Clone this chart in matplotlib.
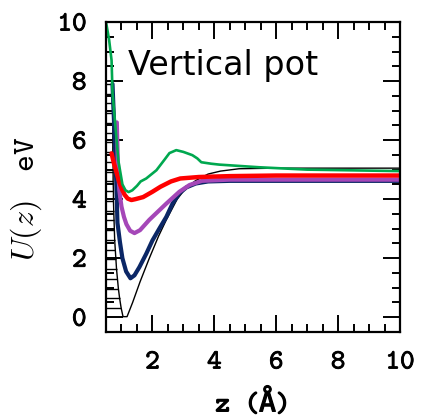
import numpy as np
import matplotlib
matplotlib.use("Agg")
from matplotlib import pyplot as plt
from matplotlib.ticker import MultipleLocator
import matplotlib.patheffects as pe

# potential curves U(z), z in Angstrom, U in eV

# black: steep wall branch (with the rungs the old plot left at each level), then the well
black_wall_z = [0.70, 0.71, 0.71, 0.72, 0.72, 0.72, 0.72, 0.72, 0.73, 0.73, 0.73,
                0.74, 0.74, 0.75, 0.76, 0.77, 0.78, 0.80, 0.82, 0.84, 0.87, 0.90,
                0.94, 0.99]
black_wall_u = [7.90, 7.57, 7.24, 6.91, 6.58, 6.25, 5.92, 5.59, 5.26, 4.93, 4.60,
                4.27, 3.94, 3.61, 3.28, 2.95, 2.62, 2.29, 1.96, 1.63, 1.30, 0.97,
                0.64, 0.31]
black_z = [1.05, 1.18, 1.36, 1.60, 1.90, 2.20, 2.45, 2.80, 3.10, 3.40, 3.80,
           4.20, 4.80, 6.00, 10.0]
black_u = [0.02, 0.02, 0.50, 1.20, 2.00, 2.75, 3.30, 4.00, 4.40, 4.63, 4.85,
           4.95, 5.03, 5.05, 5.05]

navy_z = [0.71, 0.76, 0.81, 0.84, 0.87, 0.95, 1.03, 1.15, 1.29, 1.42, 1.58,
          1.80, 2.00, 2.25, 2.45, 2.65, 2.87, 3.10, 3.40, 3.80, 4.50, 6.00, 10.0]
navy_u = [7.90, 6.60, 5.30, 4.30, 3.20, 2.55, 2.00, 1.55, 1.32, 1.42, 1.70,
          2.15, 2.60, 3.05, 3.40, 3.85, 4.20, 4.40, 4.53, 4.60, 4.62, 4.62, 4.62]

purple_z = [0.85, 0.88, 0.93, 1.00, 1.08, 1.16, 1.28, 1.42, 1.60, 1.90, 2.20,
            2.45, 2.87, 3.20, 3.60, 4.50, 10.0]
purple_u = [6.60, 5.30, 4.30, 3.75, 3.40, 3.15, 2.93, 2.85, 2.95, 3.30, 3.60,
            3.85, 4.25, 4.48, 4.62, 4.66, 4.66]

red_z = [0.68, 0.76, 0.84, 0.92, 1.00, 1.10, 1.20, 1.32, 1.45, 1.70, 2.00,
         2.26, 2.60, 2.90, 3.50, 4.50, 6.00, 10.0]
red_u = [5.55, 5.20, 4.90, 4.60, 4.37, 4.15, 4.02, 3.97, 4.00, 4.07, 4.25,
         4.42, 4.60, 4.70, 4.75, 4.78, 4.80, 4.80]

green_z = [0.50, 0.60, 0.68, 0.71, 0.81, 0.90, 1.03, 1.13, 1.23, 1.35, 1.50,
           1.62, 1.80, 2.13, 2.40, 2.55, 2.77, 3.00, 3.29, 3.45, 3.58, 3.90,
           4.16, 5.45, 7.00, 10.0]
green_u = [10.0, 9.40, 8.70, 7.60, 6.40, 5.30, 4.50, 4.30, 4.24, 4.30, 4.45,
           4.60, 4.70, 4.98, 5.35, 5.56, 5.66, 5.60, 5.49, 5.38, 5.25, 5.20,
           5.17, 5.08, 5.00, 4.95]

zmin, zmax = 0.5, 10.0
umin, umax = -0.5, 10.0


def main():
  plt.rcParams['mathtext.fontset'] = 'cm'
  tt = ['cmtt10', 'DejaVu Sans Mono']
  bold = [pe.withStroke(linewidth=0.6, foreground='black')]

  fig = plt.figure(figsize=(4.23, 4.19), dpi=100)
  ax = fig.add_axes([0.2506, 0.2076, 0.695, 0.7399])

  ax.plot(black_wall_z + black_z, black_wall_u + black_u, '-', color='black', lw=1.0)
  ax.hlines(black_wall_u, zmin, black_wall_z, color='black', lw=1.0)
  ax.plot(navy_z, navy_u, '-', color='#0b2766', lw=3.0, solid_capstyle='round')
  ax.plot(purple_z, purple_u, '-', color='#a547b8', lw=3.0, solid_capstyle='round')
  ax.plot(red_z, red_u, '-', color='#ff0000', lw=3.2, solid_capstyle='round')
  ax.plot(green_z, green_u, '-', color='#00a84f', lw=1.9)

  ax.set_xlim(zmin, zmax)
  ax.set_ylim(umin, umax)
  ax.xaxis.set_minor_locator(MultipleLocator(0.5))
  ax.yaxis.set_minor_locator(MultipleLocator(0.5))
  ax.tick_params(which='both', direction='in', top=True, right=True, width=1.4)
  ax.tick_params(which='major', length=12, pad=14)
  ax.tick_params(which='minor', length=6)
  for s in ax.spines.values():
    s.set_linewidth(1.6)

  ax.set_xticks([2, 4, 6, 8, 10])
  ax.set_xticklabels(['2', '4', '6', '8', '10'], family=tt, fontsize=20)
  ax.set_yticks([0, 2, 4, 6, 8, 10])
  ax.set_yticklabels(['0', '2', '4', '6', '8', '10'], family=tt, fontsize=20)
  for t in ax.get_xticklabels() + ax.get_yticklabels():
    t.set_path_effects(bold)

  xl = ax.set_xlabel('z (Å)', family=tt, fontsize=20, labelpad=10)
  xl.set_path_effects([pe.withStroke(linewidth=0.9, foreground='black')])
  ax.set_ylabel(r'$U(z)\ \ \ \mathtt{eV}$', fontsize=23)
  ax.yaxis.set_label_coords(-0.21, 0.43)

  ax.text(0.075, 0.83, 'Vertical pot', transform=ax.transAxes, fontsize=24,
          family='DejaVu Sans', va='baseline', ha='left')

  fig.savefig('out.png', dpi=100)


if __name__ == '__main__':
  main()
